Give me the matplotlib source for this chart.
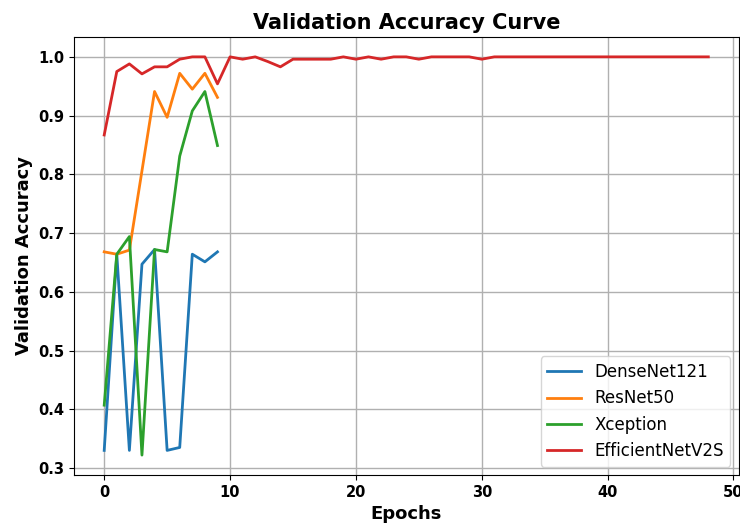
import matplotlib
matplotlib.use("Agg")
import matplotlib.pyplot as plt

# validation accuracy per epoch
densenet121 = [0.330, 0.664, 0.330, 0.647, 0.672, 0.330, 0.335, 0.664, 0.651, 0.668]
resnet50 = [0.668, 0.664, 0.671, 0.806, 0.941, 0.897, 0.972, 0.945, 0.972, 0.931]
xception = [0.407, 0.664, 0.694, 0.322, 0.672, 0.668, 0.831, 0.908, 0.941, 0.849]
efficientnetv2s = [0.867, 0.975, 0.988, 0.971, 0.983, 0.983, 0.996, 1.0, 1.0, 0.954,
                   1.0, 0.996, 1.0, 0.992, 0.983, 0.996, 0.996, 0.996, 0.996, 1.0,
                   0.996, 1.0, 0.996, 1.0, 1.0, 0.996, 1.0, 1.0, 1.0, 1.0,
                   0.996, 1.0, 1.0, 1.0, 1.0, 1.0, 1.0, 1.0, 1.0, 1.0,
                   1.0, 1.0, 1.0, 1.0, 1.0, 1.0, 1.0, 1.0, 1.0]
labels = ["DenseNet121", "ResNet50", "Xception", "EfficientNetV2S"]

fig = plt.figure(figsize=(7.4, 5.24), dpi=100)
ax = fig.add_axes([0.1, 0.0935, 0.898, 0.836])

for series, name in zip([densenet121, resnet50, xception, efficientnetv2s], labels):
    ax.plot(range(len(series)), series, linewidth=2, label=name)

ax.set_title("Validation Accuracy Curve", fontsize=15, fontweight="bold")
ax.set_xlabel("Epochs", fontsize=13, fontweight="bold")
ax.set_ylabel("Validation Accuracy", fontsize=13, fontweight="bold")
ax.set_xticks([0, 10, 20, 30, 40, 50])
ax.tick_params(labelsize=10.5)
for lbl in ax.get_xticklabels() + ax.get_yticklabels():
    lbl.set_fontweight("bold")
ax.grid(True, linewidth=1, color="#b0b0b0")
ax.legend(loc="lower right", fontsize=12)

fig.savefig("out.png", dpi=100)
